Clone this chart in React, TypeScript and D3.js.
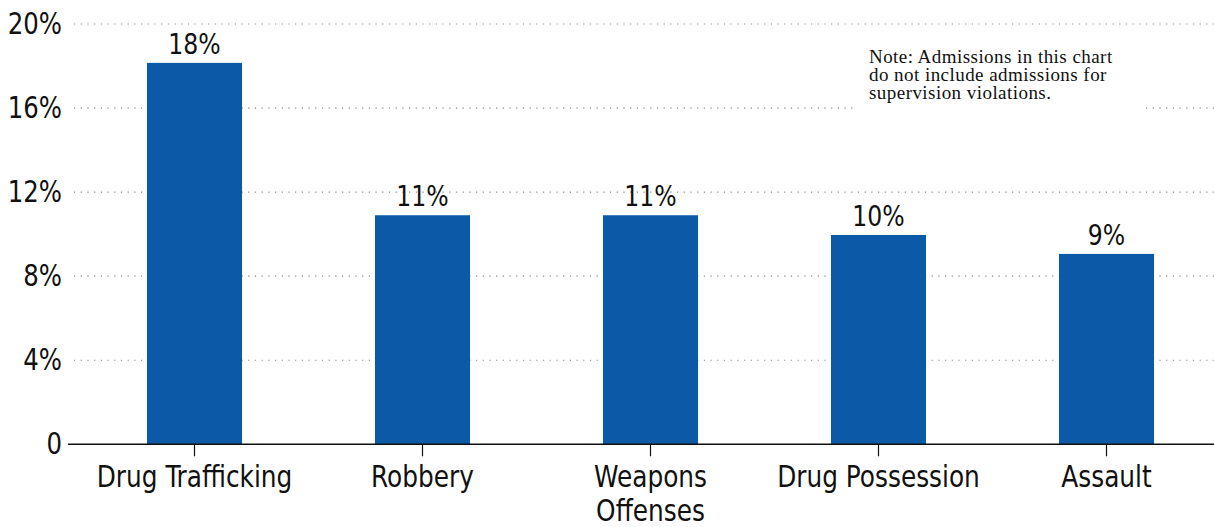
import React from "react";
import * as d3 from "d3";

const categories = ["Drug Trafficking", "Robbery", "Weapons Offenses", "Drug Possession", "Assault"];
const categoryLines = [["Drug Trafficking"], ["Robbery"], ["Weapons", "Offenses"], ["Drug Possession"], ["Assault"]];
const values = [18.15, 10.9, 10.9, 9.96, 9.06];
const valueLabels = ["18%", "11%", "11%", "10%", "9%"];
const yTicks = [0, 4, 8, 12, 16, 20];
const yTickLabels = ["0", "4%", "8%", "12%", "16%", "20%"];
const noteLines = [
  "Note: Admissions in this chart",
  "do not include admissions for",
  "supervision violations.",
];

const W = 1214;
const H = 527;
const SANS = "'DejaVu Sans Condensed', 'DejaVu Sans', sans-serif";
const SERIF = "'Liberation Serif', 'DejaVu Serif', serif";
const SX = 0.92;

function CText(props: {
  x: number;
  y: number;
  anchor: "start" | "middle" | "end";
  size: number;
  baseline?: string;
  children: React.ReactNode;
}) {
  return (
    <text
      transform={`translate(${props.x},${props.y}) scale(${SX},1)`}
      textAnchor={props.anchor}
      dominantBaseline={props.baseline}
      fontFamily={SANS}
      fontSize={props.size}
      fill="#111"
    >
      {props.children}
    </text>
  );
}

export default function App() {
  const x = d3
    .scaleBand<string>()
    .domain(categories)
    .range([80.5, 1220.5])
    .paddingInner(0.583)
    .paddingOuter(0.2915);
  const y = d3.scaleLinear().domain([0, 20]).range([444.3, 24]);

  return (
    <div style={{ position: "absolute", left: 0, top: 0 }}>
      <svg width={W} height={H} style={{ display: "block" }}>
        <rect width={W} height={H} fill="#fff" />
        {/* gridlines */}
        {yTicks.filter((t) => t > 0).map((t) => (
          <line
            key={"g" + t}
            x1={74}
            x2={W}
            y1={y(t)}
            y2={y(t)}
            stroke="#888"
            strokeWidth={1.2}
            strokeDasharray="1.2,5.5"
          />
        ))}
        {/* y labels */}
        {yTicks.map((t, i) => (
          <CText key={"yl" + t} x={62} y={y(t)} anchor="end" baseline="central" size={29.5}>
            {yTickLabels[i]}
          </CText>
        ))}
        {/* bars */}
        {categories.map((c, i) => (
          <rect
            key={"b" + c}
            x={x(c)}
            y={y(values[i])}
            width={x.bandwidth()}
            height={y(0) - y(values[i])}
            fill="#0c59a8"
          />
        ))}
        {/* value labels */}
        {categories.map((c, i) => (
          <CText
            key={"v" + c}
            x={(x(c) as number) + x.bandwidth() / 2}
            y={y(values[i]) - 9}
            anchor="middle"
            size={28.5}
          >
            {valueLabels[i]}
          </CText>
        ))}
        {/* x axis */}
        <line x1={68} x2={W} y1={y(0)} y2={y(0)} stroke="#111" strokeWidth={1.5} />
        {categories.map((c, i) => {
          const cx = (x(c) as number) + x.bandwidth() / 2;
          return (
            <g key={"xt" + c}>
              <line x1={cx} x2={cx} y1={y(0)} y2={y(0) + 12} stroke="#111" strokeWidth={1.2} />
              {categoryLines[i].map((ln, j) => (
                <CText key={ln} x={cx} y={487 + j * 34} anchor="middle" size={30}>
                  {ln}
                </CText>
              ))}
            </g>
          );
        })}
        {/* note */}
        <rect x={857} y={40} width={288} height={76} fill="#fff" />
        {noteLines.map((ln, i) => (
          <text
            key={"n" + i}
            x={869}
            y={63.3 + i * 18}
            fontFamily={SERIF}
            fontSize={19}
            letterSpacing={0.45}
            fill="#111"
          >
            {ln}
          </text>
        ))}
      </svg>
    </div>
  );
}
